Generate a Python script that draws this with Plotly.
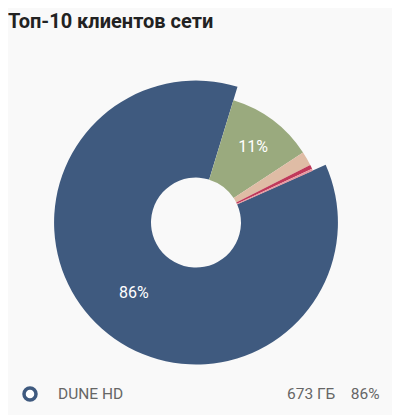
import plotly.graph_objects as go

clients = ['Клиент 2', 'Клиент 3', 'Клиент 4', 'Клиент 5', 'DUNE HD']
traffic_gb = [86, 14, 4, 2, 673]
percent_text = ['11%', '', '', '', '86%']
colors = ['#9aaa7e', '#dfbca5', '#c0395a', '#e59aa2', '#3f5a7f']

bg = '#f9f9f9'
fig = go.Figure()

dx, dy = -0.02, 0.018  # small nudge of the donut

# outer trace: only the big slice, drawn larger
fig.add_trace(go.Pie(
    labels=clients, values=traffic_gb, sort=False, direction='clockwise', rotation=17,
    hole=0.317, domain=dict(x=[0.135 + dx, 0.845 + dx], y=[0.123 + dy, 0.807 + dy]),
    marker=dict(colors=['rgba(0,0,0,0)'] * 4 + [colors[4]], line=dict(width=0)),
    text=['', '', '', '', percent_text[4]], textinfo='text', textposition='inside',
    insidetextorientation='horizontal',
    textfont=dict(color='white', size=16, family='Roboto'), showlegend=False, hoverinfo='skip'))

# inner trace: the other slices
fig.add_trace(go.Pie(
    labels=clients, values=traffic_gb, sort=False, direction='clockwise', rotation=17,
    hole=0.352, domain=dict(x=[0.17 + dx, 0.81 + dx], y=[0.156 + dy, 0.773 + dy]),
    marker=dict(colors=colors[:4] + ['rgba(0,0,0,0)'], line=dict(width=0)),
    text=percent_text[:4] + [''], textinfo='text', textposition='inside',
    insidetextorientation='horizontal',
    textfont=dict(color='white', size=16, family='Roboto'), showlegend=False, hoverinfo='skip'))

# legend row
fig.add_shape(type='circle', xref='paper', yref='paper',
              x0=16 / 400, x1=28 / 400, y0=(415 - 392) / 415, y1=(415 - 380) / 415,
              fillcolor='white', line=dict(color=colors[4], width=3.5))
fig.add_annotation(x=48 / 400, y=(415 - 397) / 415, xref='paper', yref='paper',
                   text=clients[4], showarrow=False, xanchor='left',
                   font=dict(size=15.5, color='#666', family='Roboto'))
fig.add_annotation(x=374 / 400, y=(415 - 397) / 415, xref='paper', yref='paper',
                   text=f'{traffic_gb[4]} ГБ&nbsp;&nbsp;&nbsp;&nbsp;86%', showarrow=False,
                   xanchor='right', font=dict(size=15.5, color='#666', family='Roboto'))

fig.update_layout(
    width=400, height=415, margin=dict(l=0, r=0, t=0, b=0),
    paper_bgcolor=bg, plot_bgcolor=bg,
    title=dict(text='<b>Топ-10 клиентов сети</b>', x=0.0, y=0.985, xanchor='left',
               font=dict(size=20, color='#222', family='Roboto')))

fig.write_html('out.html')
